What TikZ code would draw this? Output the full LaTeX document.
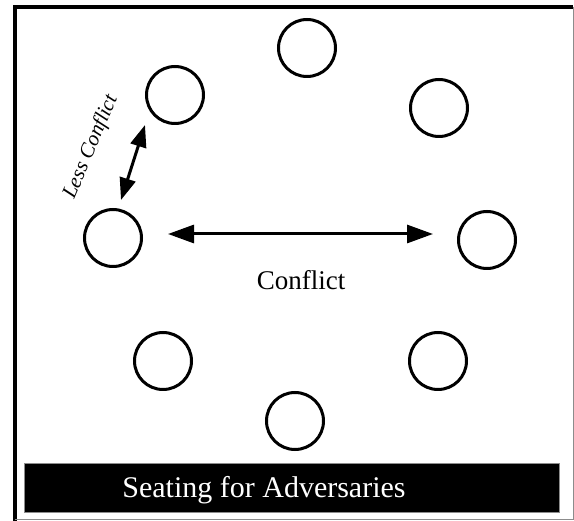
\documentclass[tikz,border=0pt]{standalone}
\usepackage{fontspec}
\setmainfont{Liberation Serif}
\usetikzlibrary{arrows.meta}
\begin{document}
\begin{tikzpicture}[x=1pt,y=-1pt,
		seat/.style={draw=black, line width=3pt, circle, minimum size=57pt, inner sep=0pt},
		longarrow/.style={line width=3pt, {Triangle[length=26pt,width=18pt]}-{Triangle[length=26pt,width=18pt]}},
		shortarrow/.style={line width=3pt, {Triangle[length=22pt,width=16pt]}-{Triangle[length=22pt,width=16pt]}}]

		\useasboundingbox (0,0) rectangle (574,521);
		%\draw[step=50pt,gray,very thin] (0,0) grid (574,521);

		% frame
		\draw[black, line width=4pt] (14.5,521) -- (14.5,7) -- (573,7);
		\draw[black!45, line width=1pt] (14.5,519.5) -- (573,519.5) -- (573,7);

		% seats
		\node[seat] (top) at (307,48) {};
		\node[seat] (topleft) at (175,95) {};
		\node[seat] (topright) at (439,108) {};
		\node[seat] (left) at (113,238) {};
		\node[seat] (right) at (487,240) {};
		\node[seat] (botleft) at (163,361) {};
		\node[seat] (botright) at (438,361) {};
		\node[seat] (bottom) at (295,421) {};

		% conflict
		\coordinate (confL) at (168,234);
		\coordinate (confR) at (433,234);
		\draw[longarrow] (confL) -- (confR);
			\node[anchor=base] (conflict) at (301,290) {\fontsize{27}{30}\selectfont Conflict};

		% less conflict
		\coordinate (lessA) at (121,200);
		\coordinate (lessB) at (145,125);
		\draw[shortarrow] (lessA) -- (lessB);
			\node[rotate=67, inner sep=0pt] (less) at (91,147) {\fontsize{21}{24}\selectfont\itshape Less Conflict};

		% title
		\node[fill=black, draw=black!45, line width=0.8pt, minimum width=535pt, minimum height=49pt, inner sep=0pt] (band) at (291.5,487.5) {};
		\node[anchor=base, white] (title) at (264,498) {\fontsize{30}{34}\selectfont Seating for Adversaries};

	\end{tikzpicture}
\end{document}
